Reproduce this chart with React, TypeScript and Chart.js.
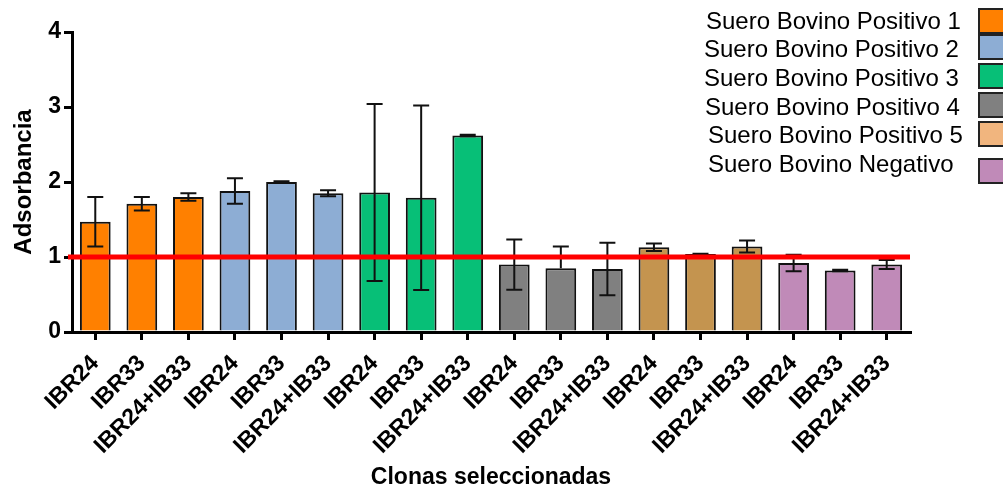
import React, { useEffect, useRef } from "react";
import { Chart, registerables } from "chart.js";

Chart.register(...registerables);

const categories = [
  "IBR24", "IBR33", "IBR24+IB33",
  "IBR24", "IBR33", "IBR24+IB33",
  "IBR24", "IBR33", "IBR24+IB33",
  "IBR24", "IBR33", "IBR24+IB33",
  "IBR24", "IBR33", "IBR24+IB33",
  "IBR24", "IBR33", "IBR24+IB33",
];

const means = [1.47, 1.71, 1.80, 1.88, 2.00, 1.85, 1.86, 1.79, 2.62, 0.90, 0.85, 0.84, 1.13, 1.04, 1.14, 0.92, 0.82, 0.90];
const errUp = [0.33, 0.09, 0.05, 0.17, 0.01, 0.04, 1.18, 1.23, 0.01, 0.335, 0.29, 0.35, 0.05, 0.005, 0.08, 0.11, 0.01, 0.06];
const errDown = [0.33, 0.09, 0.05, 0.17, 0.01, 0.04, 1.18, 1.23, 0.01, 0.335, 0, 0.35, 0.05, 0.005, 0.08, 0.11, 0.01, 0.06];

const seriesNames = [
  "Suero Bovino Positivo 1",
  "Suero Bovino Positivo 2",
  "Suero Bovino Positivo 3",
  "Suero Bovino Positivo 4",
  "Suero Bovino Positivo 5",
  "Suero Bovino Negativo",
];
const barGroupColors = ["#FF8000", "#8DADD4", "#07BF77", "#808080", "#C4944F", "#C08AB8"];
const legendColors = ["#FF8000", "#8DADD4", "#07BF77", "#808080", "#F1B57E", "#C08AB8"];
const groupOfBar = [0, 0, 0, 1, 1, 1, 2, 2, 2, 3, 3, 3, 4, 4, 4, 5, 5, 5];

const yTicks = [0, 1, 2, 3, 4];
const threshold = 1;

const FAMILY = "'Liberation Sans', Arial, sans-serif";

const errorBarPlugin = {
  id: "errorBars",
  afterDatasetsDraw(chart: any) {
    const ctx = chart.ctx;
    const meta = chart.getDatasetMeta(0);
    const y = chart.scales.y;
    ctx.save();
    ctx.strokeStyle = "#111";
    ctx.lineWidth = 2;
    const cap = 8;
    meta.data.forEach((bar: any, i: number) => {
      const x = bar.x;
      const yTop = y.getPixelForValue(means[i] + errUp[i]);
      const yMid = y.getPixelForValue(means[i]);
      const yBot = errDown[i] > 0 ? y.getPixelForValue(means[i] - errDown[i]) : yMid;
      ctx.beginPath();
      ctx.moveTo(x, yBot);
      ctx.lineTo(x, yTop);
      ctx.moveTo(x - cap, yTop);
      ctx.lineTo(x + cap, yTop);
      if (errDown[i] > 0) {
        ctx.moveTo(x - cap, yBot);
        ctx.lineTo(x + cap, yBot);
      }
      ctx.stroke();
    });
    ctx.restore();
  },
};

const thresholdPlugin = {
  id: "thresholdLine",
  afterDraw(chart: any) {
    const ctx = chart.ctx;
    const { left, right } = chart.chartArea;
    const yy = chart.scales.y.getPixelForValue(threshold);
    ctx.save();
    ctx.strokeStyle = "#FF0000";
    ctx.lineWidth = 5;
    ctx.beginPath();
    ctx.moveTo(left - 4, yy);
    ctx.lineTo(right, yy);
    ctx.stroke();
    ctx.restore();
  },
};

const legendPlugin = {
  id: "customLegend",
  afterDraw(chart: any) {
    const ctx = chart.ctx;
    const textLeft = [706, 704, 704, 705, 708, 708];
    const textMid = [22, 50, 79, 108, 136, 165];
    const boxTop = [9, 35, 64, 93, 122, 159];
    ctx.save();
    ctx.font = `24px ${FAMILY}`;
    ctx.textAlign = "left";
    ctx.textBaseline = "middle";
    seriesNames.forEach((name, i) => {
      ctx.fillStyle = "#000";
      ctx.fillText(name, textLeft[i], textMid[i]);
      ctx.fillStyle = legendColors[i];
      ctx.fillRect(979, boxTop[i], 26, 24);
      ctx.strokeStyle = "#222";
      ctx.lineWidth = 2;
      ctx.strokeRect(979, boxTop[i], 26, 24);
    });
    ctx.restore();
  },
};

export default function App() {
  const ref = useRef<HTMLCanvasElement | null>(null);
  useEffect(() => {
    if (!ref.current) return;
    const chart = new Chart(ref.current, {
      type: "bar",
      data: {
        labels: categories,
        datasets: [
          {
            data: means,
            backgroundColor: groupOfBar.map((g) => barGroupColors[g]),
            borderColor: "#111",
            borderWidth: 2,
            barPercentage: 0.66,
            categoryPercentage: 1,
          },
        ],
      },
      options: {
        responsive: false,
        animation: false,
        devicePixelRatio: 1,
        layout: { padding: { top: 32, right: 93, left: 0, bottom: 0 } },
        plugins: { legend: { display: false }, tooltip: { enabled: false } },
        scales: {
          x: {
            grid: {
              display: true,
              drawOnChartArea: false,
              drawTicks: true,
              tickLength: 8,
              color: "#000",
              lineWidth: 3,
              offset: false,
            },
            border: { color: "#000", width: 3 },
            ticks: {
              autoSkip: false,
              maxRotation: 45,
              minRotation: 45,
              padding: 10,
              color: "#000",
              font: { family: FAMILY, size: 23, weight: "bold" },
            },
            title: {
              display: true,
              text: "Clonas seleccionadas",
              color: "#000",
              font: { family: FAMILY, size: 23, weight: "bold" },
              padding: { top: 0, bottom: 0 },
            },
            afterFit: (s: any) => {
              s.height = 159;
            },
          },
          y: {
            min: 0,
            max: 4,
            afterBuildTicks: (s: any) => {
              s.ticks = yTicks.map((v) => ({ value: v }));
            },
            grid: {
              drawOnChartArea: false,
              drawTicks: true,
              tickLength: 8,
              color: "#000",
              lineWidth: 3,
            },
            border: { color: "#000", width: 3 },
            ticks: {
              padding: 3,
              color: "#000",
              font: { family: FAMILY, size: 23, weight: "bold" },
            },
            title: {
              display: true,
              text: "Adsorbancia",
              color: "#000",
              font: { family: FAMILY, size: 24, weight: "bold" },
              padding: { top: 10, bottom: 0 },
            },
            afterFit: (s: any) => {
              s.width = 72;
            },
          },
        },
      } as any,
      plugins: [errorBarPlugin, thresholdPlugin, legendPlugin],
    });
    return () => chart.destroy();
  }, []);
  return (
    <div style={{ position: "absolute", left: 0, top: 0, width: 1003, height: 491 }}>
      <canvas ref={ref} width={1003} height={491} style={{ display: "block" }} />
    </div>
  );
}
